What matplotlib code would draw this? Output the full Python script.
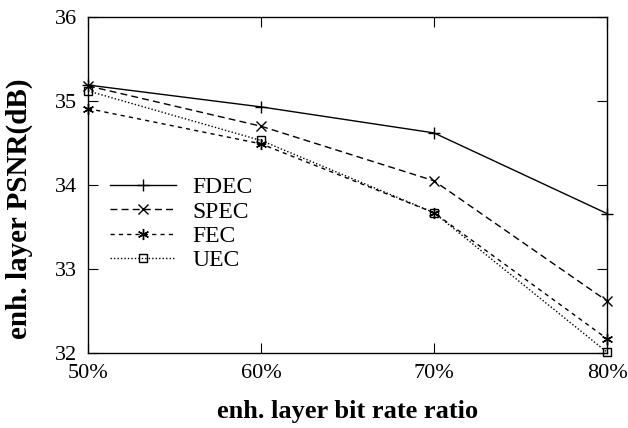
import matplotlib
matplotlib.use("Agg")
import matplotlib.pyplot as plt

ratios = [50, 60, 70, 80]
tick_labels = ["50%", "60%", "70%", "80%"]
fdec = [35.19, 34.93, 34.62, 33.66]
spec = [35.18, 34.70, 34.05, 32.62]
fec = [34.91, 34.49, 33.67, 32.17]
uec = [35.12, 34.53, 33.67, 32.01]

plt.rcParams['font.family'] = ['Liberation Serif', 'DejaVu Serif']

fig = plt.figure(figsize=(6.28, 4.28), dpi=100)
ax = fig.add_axes([88/628, 1 - 353/428, (607-88)/628, (353-17)/428])

style = dict(color="black", lw=1, mew=1, clip_on=False)
ax.plot(ratios, fdec, ls="-", marker="+", ms=8, label="FDEC", **style)
ax.plot(ratios, spec, ls=(0, (5, 3)), marker="x", ms=7, label="SPEC", **style)
ax.plot(ratios, fec, ls=(0, (3, 3)), marker=(6, 2, 0), ms=8, label="FEC", **style)
ax.plot(ratios, uec, ls=(0, (1, 1.5)), marker="s", ms=6, mfc="none", label="UEC", **style)

ax.set_xlim(50, 80)
ax.set_ylim(32, 36)
ax.set_xticks(ratios)
ax.set_xticklabels(tick_labels)
ax.set_yticks([32, 33, 34, 35, 36])
ax.tick_params(direction="in", top=True, right=True, length=7, labelsize=16, pad=8)
for s in ax.spines.values():
    s.set_linewidth(1)

ax.set_xlabel("enh. layer bit rate ratio", fontsize=19, fontweight="bold", labelpad=12)
ax.set_ylabel("enh. layer PSNR(dB)", fontsize=21, fontweight="bold")
ax.yaxis.set_label_coords(-0.106, 0.43)

ax.legend(loc="upper left", bbox_to_anchor=(0.02, 0.56), frameon=False, fontsize=17,
          handlelength=2.8, handletextpad=0.7, labelspacing=0.12, borderpad=0)

fig.savefig("out.png", dpi=100)
